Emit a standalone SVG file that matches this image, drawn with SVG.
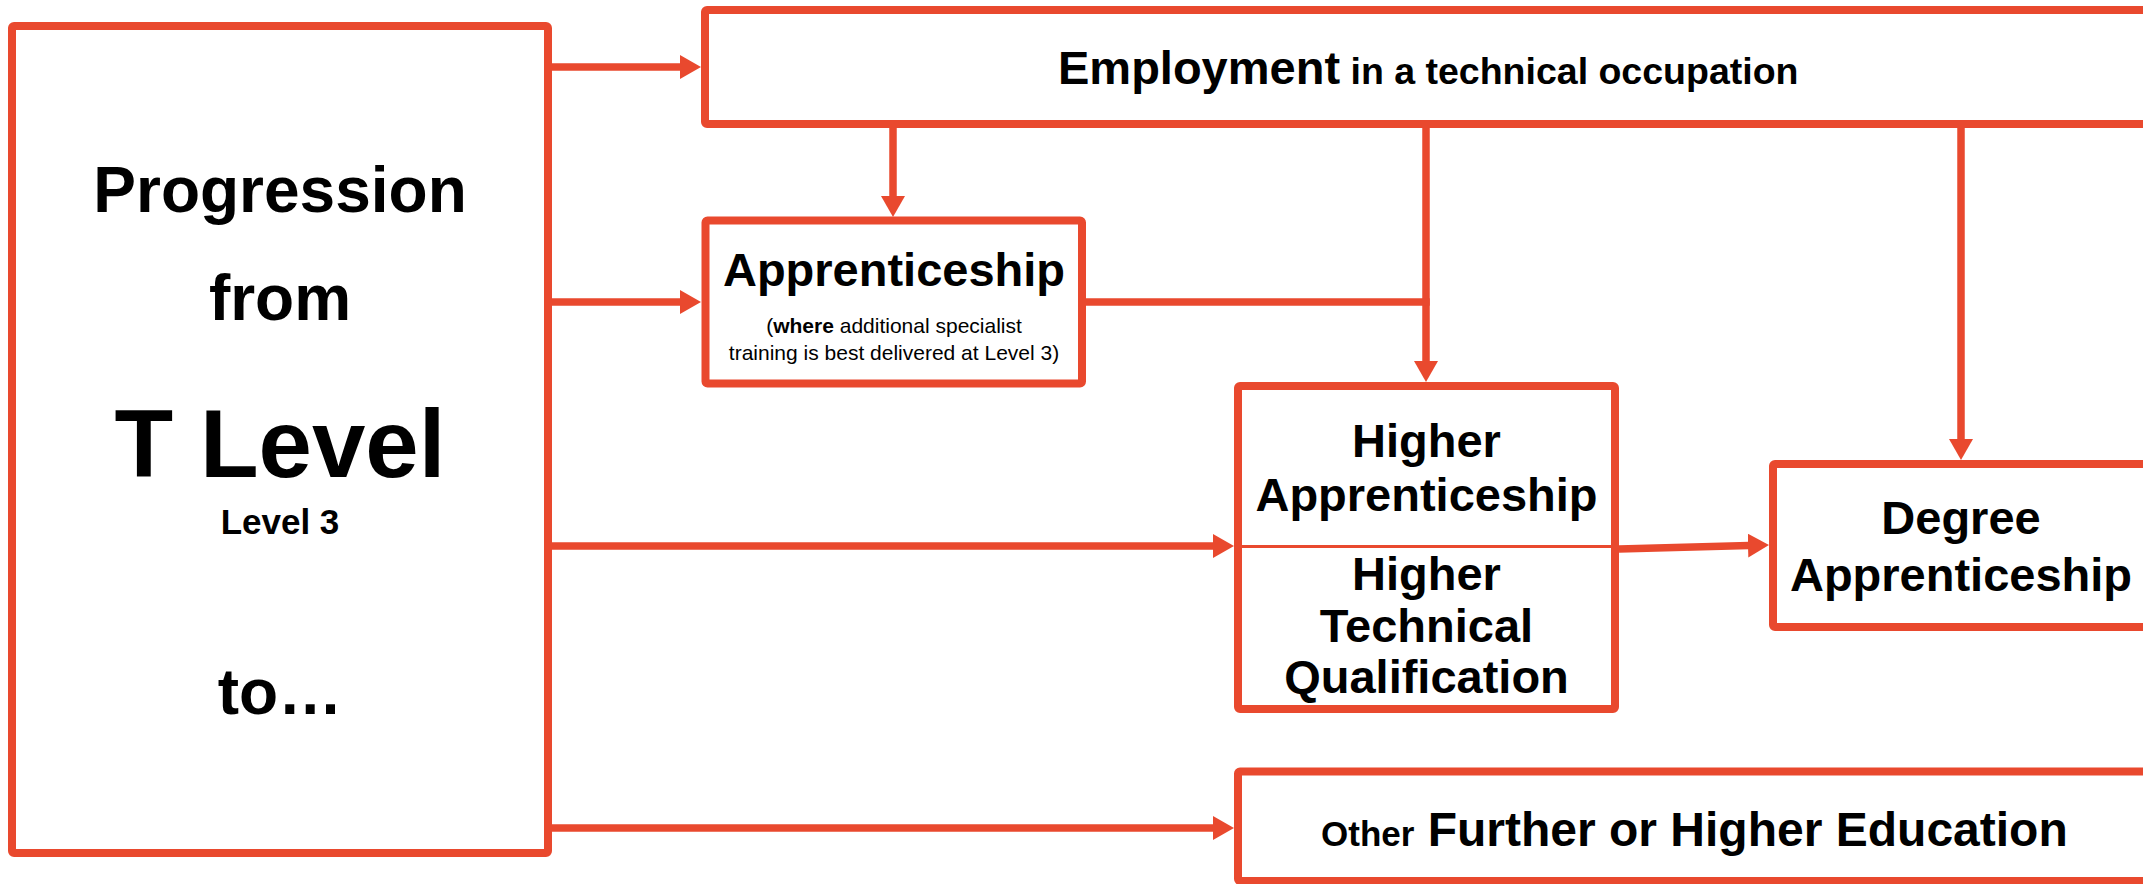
<svg xmlns="http://www.w3.org/2000/svg" width="2143" height="884" viewBox="0 0 2143 884">
<style>
.box{fill:#ffffff;stroke:#E9492E;stroke-width:8;stroke-linejoin:round}
.con{fill:none;stroke:#E9492E;stroke-width:7.5}
.t{font-family:"Liberation Sans",Arial,sans-serif;font-weight:bold;fill:#000000;text-anchor:middle}
.s{font-family:"Liberation Sans",Arial,sans-serif;fill:#000000;text-anchor:middle;font-size:21px}
</style>
<defs>
<marker id="ah" markerUnits="userSpaceOnUse" markerWidth="22" markerHeight="24" refX="1" refY="12" orient="auto">
<path d="M0,0 L21,12 L0,24 Z" fill="#E9492E"/>
</marker>
</defs>
<rect width="2143" height="884" fill="#ffffff"/>
<g id="connectors">
<line class="con" x1="552" y1="67" x2="681" y2="67" marker-end="url(#ah)"/>
<line class="con" x1="552" y1="302" x2="681" y2="302" marker-end="url(#ah)"/>
<line class="con" x1="552" y1="546" x2="1214" y2="546" marker-end="url(#ah)"/>
<line class="con" x1="552" y1="828" x2="1214" y2="828" marker-end="url(#ah)"/>
<line class="con" x1="893" y1="124" x2="893" y2="197" marker-end="url(#ah)"/>
<line class="con" x1="1426" y1="124" x2="1426" y2="362" marker-end="url(#ah)"/>
<line class="con" x1="1082" y1="302" x2="1429.75" y2="302"/>
<line class="con" x1="1961" y1="124" x2="1961" y2="440" marker-end="url(#ah)"/>
<line class="con" x1="1619" y1="549" x2="1749" y2="545.5" marker-end="url(#ah)"/>
</g>
<g id="tlevel">
<rect class="box" x="12" y="26" width="536" height="827" rx="2"/>
<text class="t" x="280" y="212" font-size="64">Progression</text>
<text class="t" x="280" y="320" font-size="64">from</text>
<text class="t" x="280" y="477" font-size="96">T Level</text>
<text class="t" x="280" y="534" font-size="35">Level 3</text>
<text class="t" x="280" y="714" font-size="64">to…</text>
</g>
<g id="employment">
<rect class="box" x="705" y="10" width="1500" height="114" rx="2"/>
<text class="t" x="1058" y="84" font-size="47" style="text-anchor:start">Employment<tspan font-size="37.5"> in a technical occupation</tspan></text>
</g>
<g id="apprenticeship">
<rect class="box" x="705.5" y="220.5" width="376.5" height="163" rx="2"/>
<text class="t" x="894" y="286" font-size="47">Apprenticeship</text>
<text class="s" x="894" y="333">(<tspan font-weight="bold">where</tspan> additional specialist</text>
<text class="s" x="894" y="360">training is best delivered at Level 3)</text>
</g>
<g id="higher">
<rect class="box" x="1238" y="386" width="377" height="323" rx="2"/>
<line x1="1238" y1="546.5" x2="1615" y2="546.5" stroke="#E9492E" stroke-width="3"/>
<text class="t" x="1426.5" y="457" font-size="47">Higher</text>
<text class="t" x="1426.5" y="511" font-size="47">Apprenticeship</text>
<text class="t" x="1426.5" y="590" font-size="47">Higher</text>
<text class="t" x="1426.5" y="642" font-size="47">Technical</text>
<text class="t" x="1426.5" y="693" font-size="47">Qualification</text>
</g>
<g id="degree">
<rect class="box" x="1773" y="464" width="500" height="163" rx="2"/>
<text class="t" x="1961" y="534" font-size="47">Degree</text>
<text class="t" x="1961" y="591" font-size="47">Apprenticeship</text>
</g>
<g id="other">
<rect class="box" x="1238" y="771.5" width="1000" height="109.5" rx="2"/>
<text class="t" x="1321" y="846" font-size="35" style="text-anchor:start">Other<tspan font-size="48"> Further or Higher Education</tspan></text>
</g>
</svg>
